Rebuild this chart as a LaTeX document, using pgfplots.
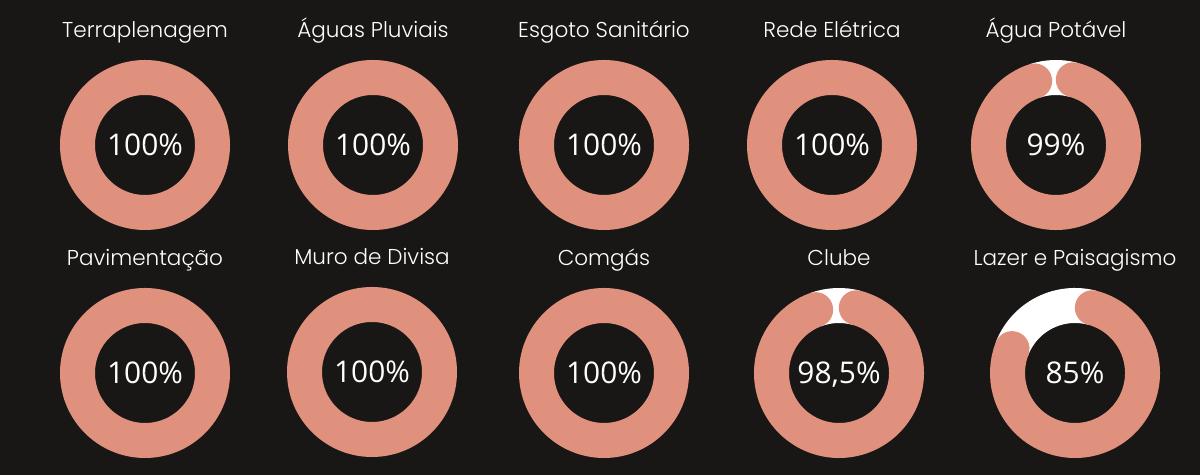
\documentclass[border=0pt]{standalone}
\usepackage{pgfplots}
\usepackage{pgfplotstable}
\pgfplotsset{compat=1.18}
\usepackage{fontspec}
\setmainfont{Open Sans}
\newfontfamily\titlefont{Poppins Light}
\definecolor{bg}{HTML}{181716}
\definecolor{salmon}{HTML}{E0917D}

\pgfplotstableread[col sep=semicolon]{
x;y;v;name;lab
145;330;100;Terraplenagem;100\%
373;330;100;Águas Pluviais;100\%
604;330;100;Esgoto Sanitário;100\%
832;330;100;Rede Elétrica;100\%
1056;330;99;Água Potável;99\%
145;102;100;Pavimentação;100\%
372;103;100;Muro de Divisa;100\%
604;102;100;Comgás;100\%
839;102;98.5;Clube;98,5\%
1075;102;85;Lazer e Paisagismo;85\%
}\donuts

\begin{document}
\begin{tikzpicture}
\begin{axis}[x=1bp, y=1bp, xmin=0, xmax=1200, ymin=0, ymax=475,
  hide axis, clip=false]
\fill[bg] (axis cs:0,0) rectangle (axis cs:1200,475);
% donut rings and centre values
\addplot[scatter, only marks, mark=*, mark size=0.1pt, mark options={draw=bg, fill=bg},
  point meta=explicit symbolic,
  visualization depends on={\thisrow{v}\as\vv},
  scatter/@pre marker code/.code={%
    \pgfmathsetmacro\ang{3.6*\vv}%
    \ifdim\ang pt<359.9pt
      \pgfmathsetmacro\wend{464.85-\ang}%
      \pgfmathsetmacro\send{104.85-\ang}%
      \draw[white, line width=35bp] (75.15:67.5bp) arc[start angle=75.15, end angle=\wend, radius=67.5bp];
      \draw[salmon, line width=35bp, line cap=round] (75.15:67.5bp) arc[start angle=75.15, end angle=\send, radius=67.5bp];
    \else
      \draw[salmon, line width=35bp] (0,0) circle[radius=67.5bp];
    \fi
    \node[text=white, font=\fontsize{30}{36}\selectfont, anchor=base, inner sep=0pt] at (0,-11bp) {\pgfplotspointmeta};
  },
  scatter/@post marker code/.code={}
] table[x=x, y=y, meta=lab] \donuts;
% titles
\addplot[scatter, only marks, mark=*, mark size=0.1pt, mark options={draw=bg, fill=bg},
  point meta=explicit symbolic,
  scatter/@pre marker code/.code={%
    \node[text=white, font=\titlefont\fontsize{21.6}{26}\selectfont, anchor=base, inner sep=0pt] at (0,107bp) {\pgfplotspointmeta};
  },
  scatter/@post marker code/.code={}
] table[x=x, y=y, meta=name] \donuts;
\end{axis}
\end{tikzpicture}
\end{document}
